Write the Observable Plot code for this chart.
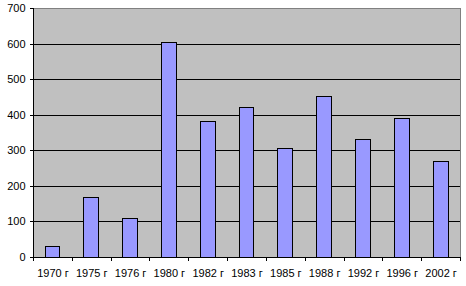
<!DOCTYPE html>
<html>
<head>
<meta charset="utf-8">
<script src="https://cdn.jsdelivr.net/npm/d3@7"></script>
<script src="https://cdn.jsdelivr.net/npm/@observablehq/plot@0.6"></script>
<style>
  html, body { margin: 0; padding: 0; background: #fff; }
</style>
</head>
<body>
<div id="chart"></div>
<script>
const years = ["1970 г", "1975 г", "1976 г", "1980 г", "1982 г", "1983 г", "1985 г", "1988 г", "1992 г", "1996 г", "2002 г"];
const values = [30, 168, 109, 604, 380, 420, 304, 450, 329, 390, 269];
const yTicks = [0, 100, 200, 300, 400, 500, 600, 700];

const data = years.map((year, i) => ({year, i, value: values[i]}));
const boundaries = d3.range(years.length + 1);
const centers = years.map((_, i) => i + 0.5);

const chart = Plot.plot({
  width: 466,
  height: 286,
  marginLeft: 33,
  marginRight: 6,
  marginTop: 8,
  marginBottom: 29,
  style: {fontFamily: "Arial, 'Liberation Sans', sans-serif", fontSize: "11px", background: "#fff", color: "#000"},
  x: {type: "linear", domain: [0, years.length]},
  y: {domain: [0, 700]},
  marks: [
    Plot.frame({fill: "#c0c0c0", stroke: "#808080", shapeRendering: "crispEdges"}),
    Plot.ruleY(yTicks.filter(d => d > 0 && d < 700), {stroke: "#000", shapeRendering: "crispEdges"}),
    Plot.rectY(data, {x1: d => d.i, x2: d => d.i + 1, y: "value", fill: "#9999ff", stroke: "#000", insetLeft: 12, insetRight: 12, shapeRendering: "crispEdges"}),
    Plot.ruleX([0], {stroke: "#000", shapeRendering: "crispEdges"}),
    Plot.ruleY([0], {stroke: "#000", shapeRendering: "crispEdges"}),
    Plot.axisY({ticks: yTicks, tickSize: 3, tickPadding: 5, tickFormat: d => String(d), label: null, shapeRendering: "crispEdges"}),
    Plot.axisX({ticks: boundaries, tickSize: 4, tickFormat: () => "", label: null, shapeRendering: "crispEdges"}),
    Plot.axisX({ticks: centers, tickSize: 0, tickPadding: 12, tickFormat: d => years[Math.floor(d)], label: null})
  ]
});
document.getElementById("chart").appendChild(chart);
</script>
</body>
</html>
